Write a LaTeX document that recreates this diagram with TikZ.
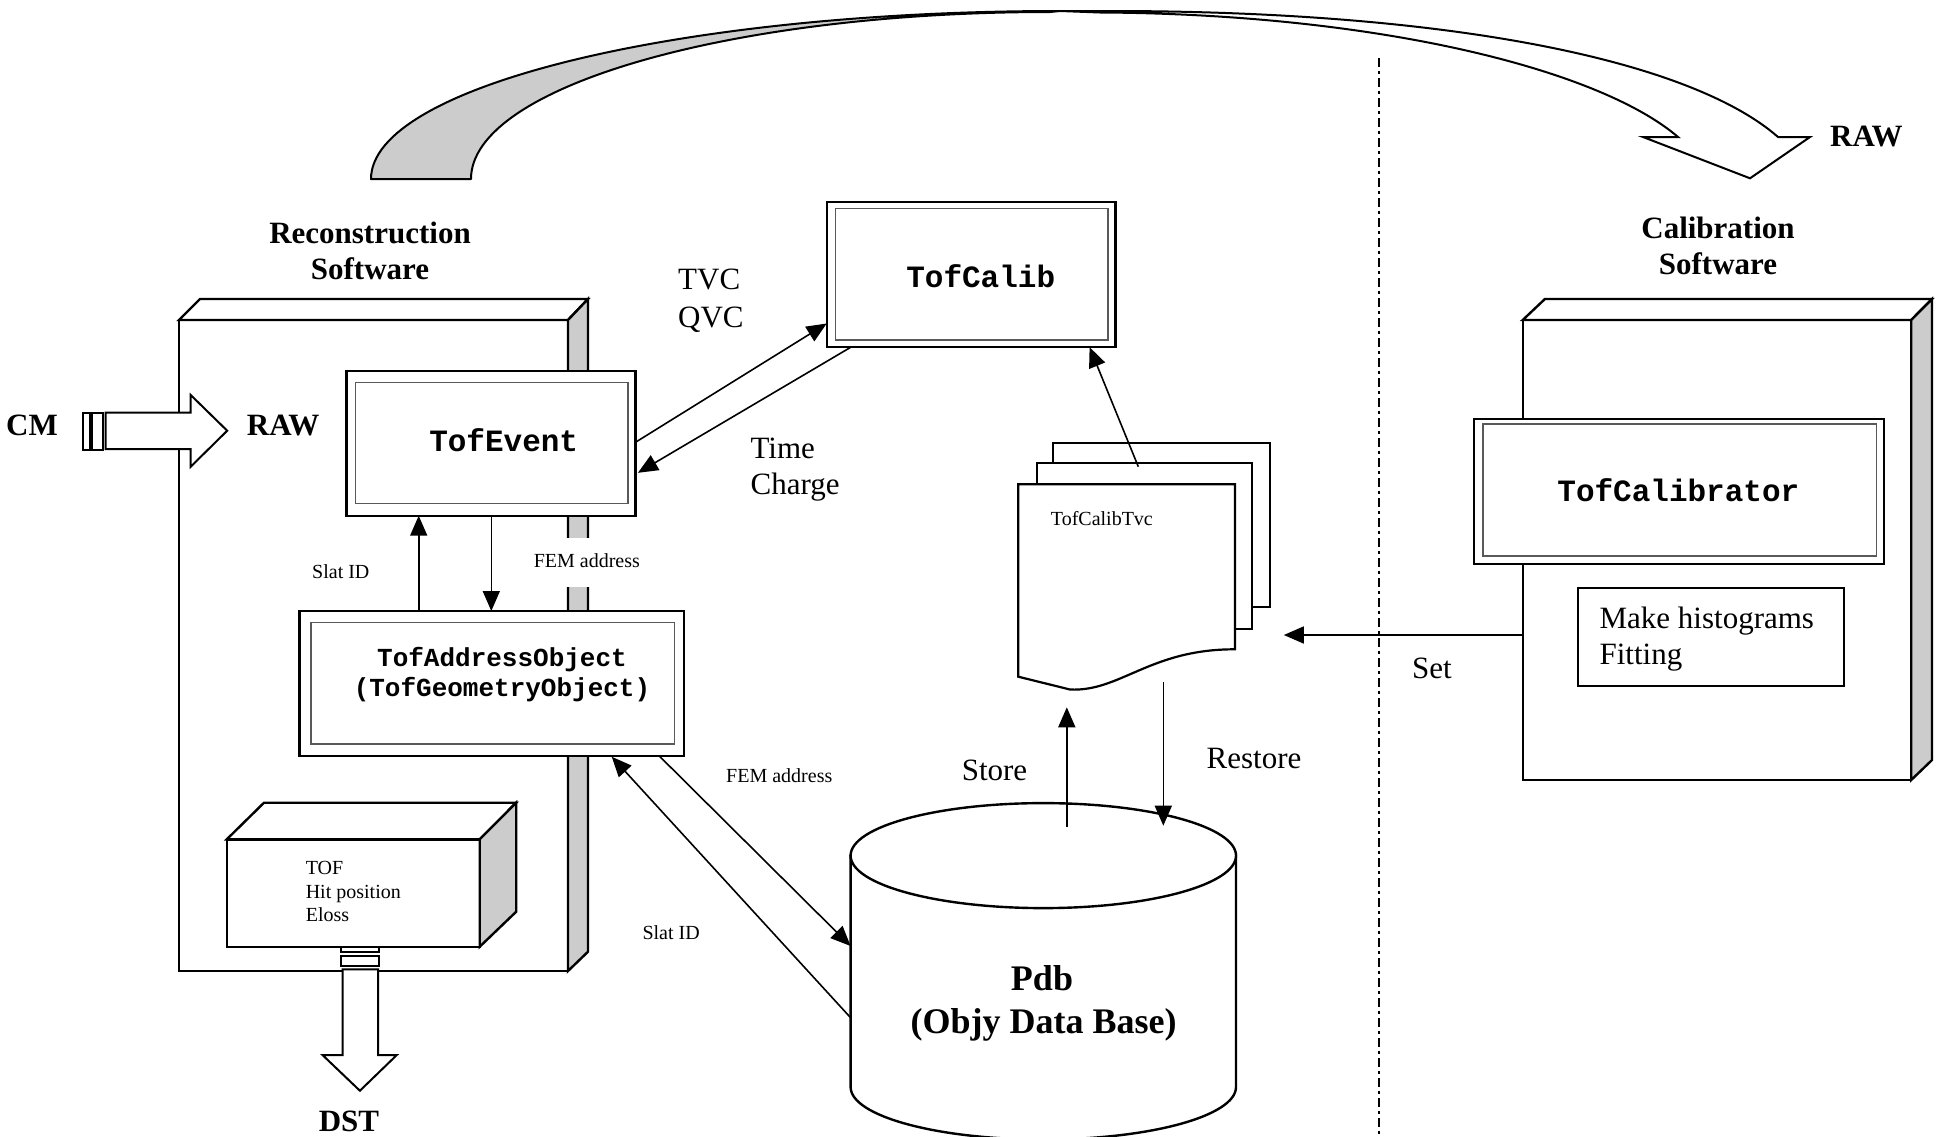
\documentclass[tikz,border=0pt]{standalone}
\usepackage{fontspec}
\setmainfont{Liberation Serif}
\newfontfamily\codefont{Liberation Mono}
\usetikzlibrary{arrows.meta}
\begin{document}
\begin{tikzpicture}[x=1pt,y=-1pt,
  boxline/.style={draw=black,line width=2.4pt,line join=miter},
  innerline/.style={draw=black!65,line width=1.2pt},
  arr/.style={line width=1.6pt,-{Triangle[length=20pt,width=17pt]}},
  blockarr/.style={draw=black,line width=2pt,fill=white,line join=miter},
  grayfill/.style={fill=black!20},
  lbl/.style={inner sep=0pt,anchor=base west},
  ctr/.style={inner sep=0pt,anchor=base},
  txtm/.style={font=\fontsize{31}{37}\selectfont},
  txtmb/.style={font=\fontsize{31}{37}\selectfont\bfseries},
  txts/.style={font=\fontsize{20}{24}\selectfont},
  codeL/.style={font=\fontsize{31}{37}\selectfont\codefont\bfseries},
  codeS/.style={font=\fontsize{26}{30}\selectfont\codefont\bfseries}
]
\useasboundingbox (0,0) rectangle (1942,1136);
\begin{scope}
\clip (0,0) rectangle (1942,1136);

% ---------- big curved arrow ----------
\draw[line width=2pt,grayfill,line join=round]
  (371,179) .. controls (371,86.2) and (679.5,11) .. (1060,11)
  -- (1050,12) .. controls (730.2,12) and (471,86.8) .. (471,179) -- cycle;
\draw[line width=2pt,fill=white,line join=miter]
  (1060,11) -- (1110,11) .. controls (1450,11) and (1690,60) .. (1778,137)
  -- (1810,137) -- (1750,178.3) -- (1643,137) -- (1678,137)
  .. controls (1600,70) and (1380,14) .. (1100,12.5) -- cycle;
\node (rawtop) [lbl,txtmb] at (1830,146.7) {RAW};

% ---------- separator ----------
\coordinate (sepT) at (1378.6,58);
\coordinate (sepB) at (1378.6,1140);
\draw[line width=2pt,dash pattern=on 9pt off 4pt on 3pt off 4pt] (sepT) -- (sepB);

% ---------- Reconstruction software box ----------
\draw[boxline,fill=white] (179,320) rectangle (568,971);
\draw[boxline,fill=white] (179,320) -- (200,299) -- (588,299) -- (568,320) -- cycle;
\draw[boxline,grayfill] (568,320) -- (588,299) -- (588,951.7) -- (568,971) -- cycle;
\fill[white] (564,538) rectangle (592,587);
\node (femA) [lbl,txts] at (533.6,567) {FEM address};
\node (slatA) [lbl,txts] at (312,578) {Slat ID};

\node (rec1) [ctr,txtmb] at (370,243) {Reconstruction};
\node (rec2) [ctr,txtmb] at (370,279) {Software};

% TofEvent
\draw[boxline,fill=white] (346.6,370.7) rectangle (635.5,515.7);
\draw[innerline] (355.3,382.7) rectangle (628,503.3);
\node (tofevent) [ctr,codeL] at (503.7,451.7) {TofEvent};

% TofAddressObject
\draw[boxline,fill=white] (299.3,611) rectangle (684,756);
\draw[innerline] (311,622.3) rectangle (674.3,744);
\node (tao1) [ctr,codeS] at (502,666.7) {TofAddressObject};
\node (tao2) [ctr,codeS] at (502,696.7) {(TofGeometryObject)};

% TOF 3D box
\draw[boxline,fill=white] (226.8,839.3) rectangle (479.7,946.7);
\draw[boxline,fill=white] (226.8,839.3) -- (264,802.7) -- (516.2,802.7) -- (479.7,839.3) -- cycle;
\draw[boxline,grayfill] (479.7,839.3) -- (516.2,802.7) -- (516.2,911.7) -- (479.7,946.7) -- cycle;
\node (tof1) [lbl,txts] at (305.6,874.3) {TOF};
\node (tof2) [lbl,txts] at (305.6,898.3) {Hit position};
\node (tof3) [lbl,txts] at (305.6,921.7) {Eloss};

% CM -> RAW block arrow
\draw[blockarr] (82.9,412.7) rectangle (90.4,450);
\draw[blockarr] (92,412.7) rectangle (102.8,450);
\draw[blockarr] (105.7,412.7) -- (190.7,412.7) -- (190.7,395) -- (227.2,430.7)
  -- (190.7,466.7) -- (190.7,449) -- (105.7,449) -- cycle;
\node (cm) [inner sep=0pt,anchor=base east,txtmb] at (58,435) {CM};
\node (rawleft) [lbl,txtmb] at (246.7,435) {RAW};

% DST block arrow
\draw[blockarr] (340.8,946.7) rectangle (378.5,952.3);
\draw[blockarr] (340.8,955.7) rectangle (378.5,966);
\draw[blockarr] (342.5,969.3) -- (342.5,1055) -- (322.5,1055) -- (359.9,1090.7)
  -- (396.8,1055) -- (378.1,1055) -- (378.1,969.3) -- cycle;
\node (dst) [ctr,txtmb] at (349,1131) {DST};

% ---------- TofCalib ----------
\draw[boxline,fill=white] (827,202.2) rectangle (1115.5,347.2);
\draw[innerline] (835.6,208.7) rectangle (1108,340);
\node (tofcalib) [ctr,codeL] at (980.7,287) {TofCalib};
\node (tvc) [lbl,txtm] at (678,289) {TVC};
\node (qvc) [lbl,txtm] at (678,327) {QVC};
\node (time) [lbl,txtm] at (750.4,458.2) {Time};
\node (charge) [lbl,txtm] at (750.4,494.6) {Charge};

% ---------- TofCalibTvc documents ----------
\draw[boxline,line width=2.2pt,fill=white] (1053.3,442.7) rectangle (1270,607.3);
\draw[boxline,line width=2.2pt,fill=white] (1036.7,463.3) rectangle (1251.7,629);
\draw[boxline,line width=2.2pt,fill=white] (1018.3,484.3) -- (1235,484.3) -- (1235,649.3)
  .. controls (1150,649) and (1120,692) .. (1070,689.5) -- (1018.3,676.7) -- cycle;
\node (tvcdoc) [lbl,txts] at (1050.7,525) {TofCalibTvc};

% ---------- Pdb cylinder ----------
\draw[boxline,fill=white] (850.6,855.6) -- (850.6,1087)
  .. controls (850.6,1116) and (936.9,1139.5) .. (1043.3,1139.5)
  .. controls (1149.7,1139.5) and (1236,1116) .. (1236,1087) -- (1236,855.6) -- cycle;
\draw[boxline,fill=white] (1043.3,855.6) ellipse [x radius=192.7pt, y radius=52.5pt];
\node (pdb1) [ctr,font=\fontsize{36}{43}\selectfont\bfseries] at (1042,990) {Pdb};
\node (pdb2) [ctr,font=\fontsize{36}{43}\selectfont\bfseries] at (1043.5,1033.3) {(Objy Data Base)};
\node (store) [lbl,txtm] at (961.6,780) {Store};
\node (restore) [lbl,txtm] at (1206.5,768.3) {Restore};

% ---------- Calibration software box ----------
\node (cal1) [ctr,txtmb] at (1718,238) {Calibration};
\node (cal2) [ctr,txtmb] at (1718,274) {Software};
\draw[boxline,fill=white] (1522.7,320) rectangle (1911.2,780);
\draw[boxline,fill=white] (1522.7,320) -- (1544.9,299) -- (1932,299) -- (1911.2,320) -- cycle;
\draw[boxline,grayfill] (1911.2,320) -- (1932,299) -- (1932,760) -- (1911.2,780) -- cycle;
\draw[boxline,line width=2pt,fill=white] (1474.3,419) rectangle (1884,564);
\draw[innerline] (1482.9,424) rectangle (1876.4,556);
\node (tofcalibrator) [ctr,codeL] at (1678.3,501.7) {TofCalibrator};
\draw[line width=1.8pt,fill=white] (1578.2,588.3) rectangle (1844.2,685.7);
\node (mh1) [lbl,txtm] at (1599.4,628.3) {Make histograms};
\node (mh2) [lbl,txtm] at (1599.4,664.5) {Fitting};
\node (set) [lbl,txtm] at (1412,678.3) {Set};

% ---------- connectors ----------
\coordinate (evR1) at (635.6,442.2);  \coordinate (calL) at (826.7,323.5);
\coordinate (calB) at (850.8,347.2);  \coordinate (evR2) at (637.9,472.8);
\coordinate (taoT1) at (418.7,611);   \coordinate (evB1) at (418.7,515.7);
\coordinate (evB2) at (491.3,515.7);  \coordinate (taoT2) at (491.3,611);
\coordinate (taoB) at (659,755.7);    \coordinate (pdbL1) at (850.6,946);
\coordinate (pdbL2) at (850.6,1017.7); \coordinate (taoBR) at (611.7,756.7);
\coordinate (pdbT1) at (1066.8,826.7); \coordinate (docB1) at (1066.8,707.3);
\coordinate (docB2) at (1163.3,682.3); \coordinate (pdbT2) at (1163.3,825.7);
\coordinate (docT) at (1138.3,466.7);  \coordinate (calB2) at (1089.6,347.2);
\coordinate (calSW) at (1522.7,635);   \coordinate (docR) at (1283.8,635);

\draw[arr] (evR1) -- (calL);
\draw[arr] (calB) -- (evR2);
\draw[arr] (taoT1) -- (evB1);
\draw[arr] (evB2) -- (taoT2);
\draw[arr] (taoB) -- (pdbL1);
\draw[arr] (pdbL2) -- (taoBR);
\draw[arr] (pdbT1) -- (docB1);
\draw[arr] (docB2) -- (pdbT2);
\draw[arr] (docT) -- (calB2);
\draw[arr] (calSW) -- (docR);

\node (femB) [lbl,txts] at (726,782.7) {FEM address};
\node (slatB) [lbl,txts] at (642.3,939) {Slat ID};
\end{scope}
\end{tikzpicture}
\end{document}
